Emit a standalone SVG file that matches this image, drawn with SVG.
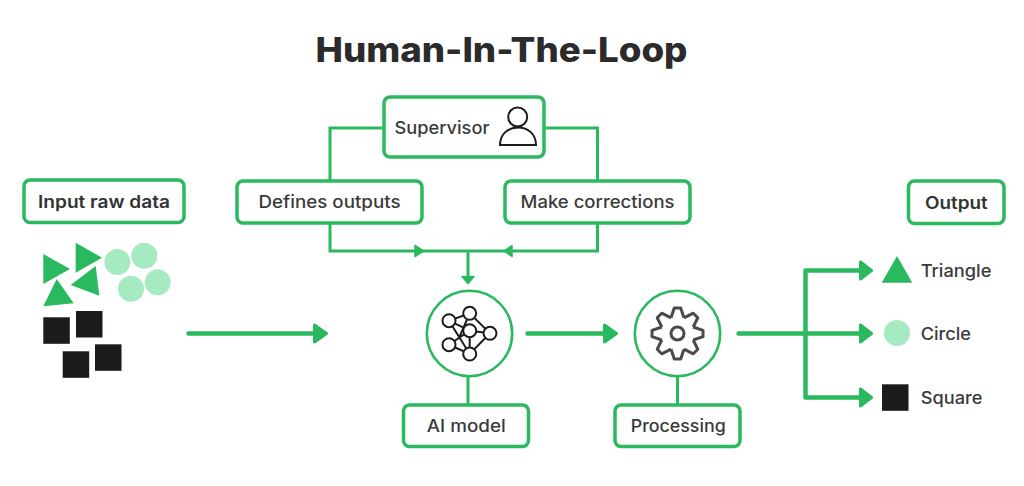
<svg xmlns="http://www.w3.org/2000/svg" xmlns:xlink="http://www.w3.org/1999/xlink" width="1024" height="486" viewBox="0 0 1024 486">
<style>
text{font-family:"Inter","Noto Sans","Liberation Sans",sans-serif;fill:#3a3a3a;font-size:17px;font-weight:500}
.b{font-weight:600;fill:#333}
.t{font-size:34px;font-weight:800;fill:#2b2b2b}
.box{fill:#fff;stroke:#2bb95f;stroke-width:3.5}
.c{fill:none;stroke:#2bb95f;stroke-width:3}
.h{fill:none;stroke:#2bb95f;stroke-width:4.500;stroke-linecap:round;stroke-linejoin:round}
.a{fill:#2bb95f;stroke:#2bb95f;stroke-width:3;stroke-linejoin:round}
.s{fill:#2bb95f;stroke:#2bb95f;stroke-width:1.500;stroke-linejoin:round}
.tri{fill:#2bb95f}
.cir{fill:#a5eac0}
.sq{fill:#1d1b19}
.ic{fill:#fff;stroke:#1c1c1c;stroke-width:2}
.il{fill:none;stroke:#1c1c1c;stroke-width:2}
.g{fill:none;stroke:#4a4a4a;stroke-width:3;stroke-linejoin:round}
</style>
<defs>
<path id="tooth" d="M-6.500-15.700L-3.200-25.500H3.200L6.500-15.700"/>
</defs>
<rect width="1024" height="486" fill="#fff"/>
<text id="title" class="t" x="315.500" y="62" textLength="372" lengthAdjust="spacingAndGlyphs">Human-In-The-Loop</text>
<g id="connectors">
<path class="c" d="M384 128H330V181M544 128H597.500V181M330 223V251H597.500V223M468 251V277M468 377V405M677.500 377V405"/>
<path class="s" d="M415 245.500L423.500 251L415 256.500ZM512 245.500L504 251L512 256.500ZM462 276.500H474L468 283.500Z"/>
<path class="h" d="M188.500 333.500H315M527.500 333.500H605M738.500 333.500H860M860 270.500H805.500V397.500H860"/>
<path class="a" d="M314.500 325L326.500 333.500L314.500 342ZM604.500 325L616.500 333.500L604.500 342ZM860.500 262L871.500 270.500L860.500 279ZM860.500 325L871.500 333.500L860.500 342ZM860.500 389L871.500 397.500L860.500 406Z"/>
</g>
<g id="supervisor">
<rect class="box" x="384" y="97" width="160" height="60" rx="6"/>
<text x="394.500" y="134" textLength="95" lengthAdjust="spacingAndGlyphs">Supervisor</text>
<circle class="il" cx="517.700" cy="117" r="9.500"/>
<path class="il" d="M500 145C500 134 508 127.500 518 127.500C528 127.500 536 134 536 145Z"/>
</g>
<g id="defines-outputs">
<rect class="box" x="237" y="181" width="185" height="42" rx="6"/>
<text x="258.500" y="208" textLength="142" lengthAdjust="spacingAndGlyphs">Defines outputs</text>
</g>
<g id="make-corrections">
<rect class="box" x="505" y="181" width="185" height="42" rx="6"/>
<text x="520.500" y="208" textLength="154" lengthAdjust="spacingAndGlyphs">Make corrections</text>
</g>
<g id="input-raw-data">
<rect class="box" x="24" y="180" width="160" height="42.500" rx="6"/>
<text class="b" x="38" y="208" textLength="132" lengthAdjust="spacingAndGlyphs">Input raw data</text>
<polygon class="tri" points="43.300,254 70,269 43.300,284"/>
<polygon class="tri" points="75.700,242.700 102,257.700 75.700,272.700"/>
<polygon class="tri" points="95.700,266 99.300,295.700 70.700,285"/>
<polygon class="tri" points="56.700,279 73.700,303.300 43.300,306.300"/>
<circle class="cir" cx="117.300" cy="262" r="13"/>
<circle class="cir" cx="144.300" cy="255.700" r="13"/>
<circle class="cir" cx="131" cy="288.700" r="13"/>
<circle class="cir" cx="157.700" cy="282.300" r="13"/>
<rect class="sq" x="43.300" y="317.300" width="26.500" height="26.500"/>
<rect class="sq" x="76" y="311" width="26.500" height="26.500"/>
<rect class="sq" x="62.700" y="351.300" width="26.500" height="26.500"/>
<rect class="sq" x="95" y="344.300" width="26.500" height="26.500"/>
</g>
<g id="ai-circle">
<circle cx="469.500" cy="333.500" r="42.700" fill="#fff" stroke="#2bb95f" stroke-width="2.600"/>
<path class="il" d="M449 320.700L469.700 313.300L490 333.300L469.700 354L449 320.700M449 320.700L469.700 330.700L449 344.700L469.700 354V330.700M469.700 313.300L459 338M469.700 330.700L490 333.300"/>
<circle class="ic" cx="449" cy="320.700" r="6.500"/>
<circle class="ic" cx="469.700" cy="313.300" r="6.500"/>
<circle class="ic" cx="469.700" cy="330.700" r="6.500"/>
<circle class="ic" cx="490" cy="333.300" r="6.500"/>
<circle class="ic" cx="449" cy="344.700" r="6.500"/>
<circle class="ic" cx="469.700" cy="354" r="6.500"/>
</g>
<g id="ai-model">
<rect class="box" x="403.500" y="405" width="125" height="41.500" rx="6"/>
<text x="426.700" y="432" textLength="79" lengthAdjust="spacingAndGlyphs">AI model</text>
</g>
<g id="gear-circle">
<circle cx="677.500" cy="333.500" r="42.700" fill="#fff" stroke="#2bb95f" stroke-width="2.600"/>
<g transform="translate(677.500 333.500)" class="g">
<use xlink:href="#tooth"/>
<use xlink:href="#tooth" transform="rotate(45)"/>
<use xlink:href="#tooth" transform="rotate(90)"/>
<use xlink:href="#tooth" transform="rotate(135)"/>
<use xlink:href="#tooth" transform="rotate(180)"/>
<use xlink:href="#tooth" transform="rotate(225)"/>
<use xlink:href="#tooth" transform="rotate(270)"/>
<use xlink:href="#tooth" transform="rotate(315)"/>
<circle r="6.500"/>
</g>
</g>
<g id="processing">
<rect class="box" x="615" y="405" width="125" height="41.500" rx="6"/>
<text x="630.700" y="432" textLength="95" lengthAdjust="spacingAndGlyphs">Processing</text>
</g>
<g id="output">
<rect class="box" x="908.500" y="181" width="95.500" height="42.500" rx="6"/>
<text class="b" x="925" y="208.500" textLength="62.700" lengthAdjust="spacingAndGlyphs">Output</text>
</g>
<g id="out-triangle">
<polygon class="tri" points="897,256 912.300,282.700 881.700,282.700"/>
<text x="920.700" y="277" textLength="70.700" lengthAdjust="spacingAndGlyphs">Triangle</text>
</g>
<g id="out-circle">
<circle class="cir" cx="897" cy="333" r="13"/>
<text x="920.700" y="340" textLength="50.300" lengthAdjust="spacingAndGlyphs">Circle</text>
</g>
<g id="out-square">
<rect class="sq" x="882" y="384.300" width="26.500" height="26.500"/>
<text x="920.700" y="404" textLength="61.700" lengthAdjust="spacingAndGlyphs">Square</text>
</g>
</svg>
